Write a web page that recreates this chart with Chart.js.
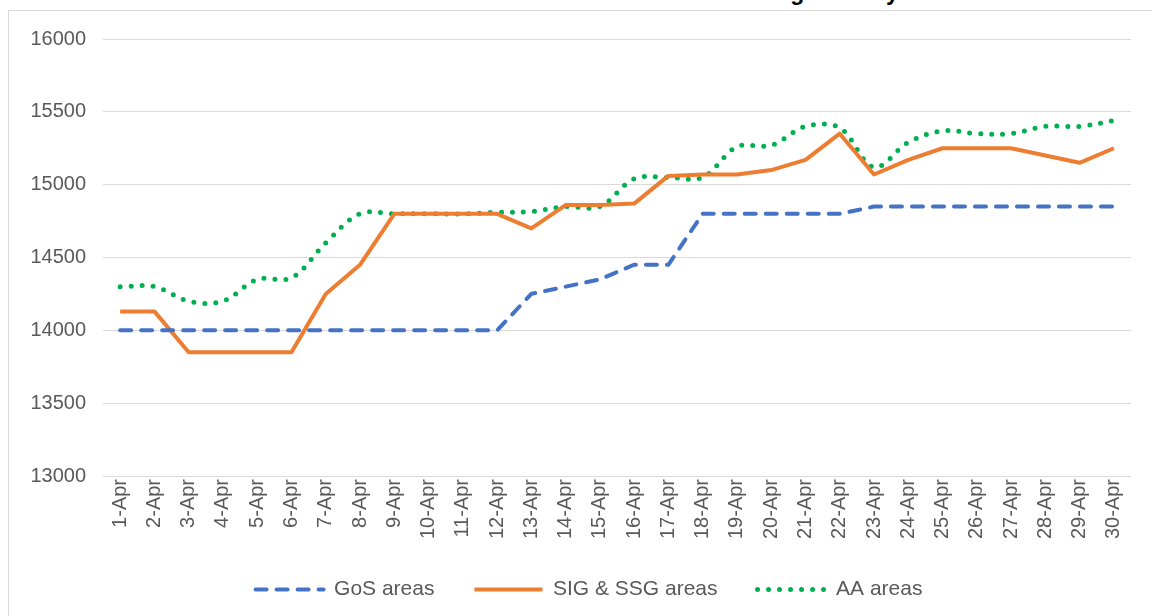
<!DOCTYPE html>
<html>
<head>
<meta charset="utf-8">
<script src="https://cdn.jsdelivr.net/npm/chart.js@4.4.1/dist/chart.umd.min.js"></script>
<style>
  html, body { margin: 0; padding: 0; background: #ffffff; overflow: hidden; }
  #wrap { position: relative; width: 1152px; height: 616px; overflow: hidden; background: #fff; }
  #frame { position: absolute; left: 8px; top: 10px; width: 1200px; height: 700px; border: 1px solid #d9d9d9; box-sizing: border-box; pointer-events: none; }
  #title { position: absolute; left: 8px; width: 1144px; top: -21px; text-align: center; font: bold 23px "Liberation Sans", Arial, sans-serif; line-height: 26px; color: #000; white-space: nowrap; }
  #cv { position: absolute; left: 0; top: 0; }
</style>
</head>
<body>
<div id="wrap">
  <div id="title">Labour market rates between different areas during January 1</div>
  <div id="frame"></div>
  <canvas id="cv" width="1152" height="616"></canvas>
</div>
<script>
const categories = ['1-Apr','2-Apr','3-Apr','4-Apr','5-Apr','6-Apr','7-Apr','8-Apr','9-Apr','10-Apr',
  '11-Apr','12-Apr','13-Apr','14-Apr','15-Apr','16-Apr','17-Apr','18-Apr','19-Apr','20-Apr',
  '21-Apr','22-Apr','23-Apr','24-Apr','25-Apr','26-Apr','27-Apr','28-Apr','29-Apr','30-Apr'];

const gosAreas = [14000,14000,14000,14000,14000,14000,14000,14000,14000,14000,
  14000,14000,14250,14300,14350,14450,14450,14800,14800,14800,
  14800,14800,14850,14850,14850,14850,14850,14850,14850,14850];

const sigSsgAreas = [14130,14130,13850,13850,13850,13850,14250,14450,14800,14800,
  14800,14800,14700,14860,14860,14870,15060,15070,15070,15100,
  15170,15350,15070,15170,15250,15250,15250,15200,15150,15250];

const aaAreas = [14300,14300,14200,14200,14350,14360,14600,14800,14800,14800,
  14800,14810,14815,14850,14850,15040,15050,15050,15260,15270,
  15400,15390,15120,15290,15370,15350,15350,15400,15400,15440];

const seriesNames = ['GoS areas', 'SIG & SSG areas', 'AA areas'];
const yTicks = { min: 13000, max: 16000, step: 500 };

const FONT = '"Liberation Sans", Arial, sans-serif';
const TXT = '#595959';

const legendShift = {
  id: 'legendShift',
  afterLayout(chart) {
    if (chart.legend) { chart.legend.left += 19; chart.legend.right += 19; }
  }
};

new Chart(document.getElementById('cv'), {
  type: 'line',
  plugins: [legendShift],
  data: {
    labels: categories,
    datasets: [
      {
        label: seriesNames[0], data: gosAreas,
        borderColor: '#4472C4', backgroundColor: '#4472C4',
        borderWidth: 4, borderDash: [11, 10], borderCapStyle: 'round',
        pointRadius: 0, tension: 0, fill: false
      },
      {
        label: seriesNames[1], data: sigSsgAreas,
        borderColor: '#ED7D31', backgroundColor: '#ED7D31',
        borderWidth: 4, borderDash: [], borderCapStyle: 'butt', borderJoinStyle: 'round',
        pointRadius: 0, tension: 0, fill: false
      },
      {
        label: seriesNames[2], data: aaAreas,
        borderColor: '#00B050', backgroundColor: '#00B050',
        borderWidth: 5, borderDash: [0, 11], borderCapStyle: 'round',
        pointRadius: 0, tension: 0.35, fill: false
      }
    ]
  },
  options: {
    responsive: false,
    animation: false,
    layout: { padding: { left: 9, right: 21, top: 39, bottom: 6 } },
    scales: {
      x: {
        offset: true,
        grid: { display: false, drawTicks: false },
        border: { display: false },
        ticks: { color: TXT, font: { family: FONT, size: 20 }, minRotation: 90, maxRotation: 90, autoSkip: false, padding: 3 },
        afterFit: (s) => { s.height = 63; }
      },
      y: {
        min: yTicks.min, max: yTicks.max,
        grid: { color: '#d9d9d9', lineWidth: 1, drawTicks: false },
        border: { display: false },
        ticks: { stepSize: yTicks.step, color: TXT, font: { family: FONT, size: 20 }, padding: 17,
                 callback: (v) => String(v) },
        afterFit: (s) => { s.width = 94; }
      }
    },
    plugins: {
      legend: {
        position: 'bottom',
        maxHeight: 84,
        labels: {
          usePointStyle: true, pointStyle: 'line', pointStyleWidth: 68,
          boxHeight: 21, color: TXT, font: { family: FONT, size: 21 }, padding: 40,
          generateLabels: (chart) => {
            const items = Chart.defaults.plugins.legend.labels.generateLabels(chart);
            items.forEach((it) => {
              const ds = chart.data.datasets[it.datasetIndex];
              it.lineDash = ds.borderDash || [];
              it.lineCap = ds.borderCapStyle;
              it.lineWidth = ds.borderWidth;
              it.strokeStyle = ds.borderColor;
              it.fillStyle = ds.borderColor;
              it.pointStyle = 'line';
            });
            return items;
          }
        }
      },
      tooltip: { enabled: false },
      title: { display: false }
    }
  }
});
</script>
</body>
</html>
